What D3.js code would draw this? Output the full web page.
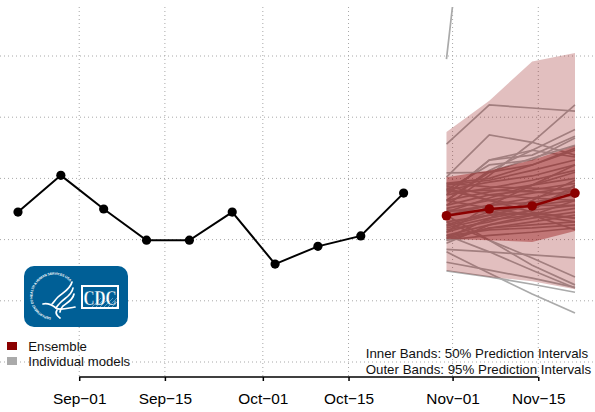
<!DOCTYPE html>
<html>
<head>
<meta charset="utf-8">
<script src="https://cdn.jsdelivr.net/npm/d3@7"></script>
<style>
  html, body { margin: 0; padding: 0; background: #fff; }
  svg { display: block; }
  text { font-family: "Liberation Sans", Arial, sans-serif; }
</style>
</head>
<body>
<div id="chart"></div>
<script>
var svgWidth = 595;
var svgHeight = 412;

var parseDay = d3.utcParse("%Y-%m-%d");

// observed weekly values
var obsDates = ["2020-08-22", "2020-08-29", "2020-09-05", "2020-09-12", "2020-09-19", "2020-09-26", "2020-10-03", "2020-10-10", "2020-10-17", "2020-10-24"];
var obsValues = [245, 305, 250, 199, 199, 245, 160, 189, 206, 276];

// forecast weeks
var fcDates = ["2020-10-31", "2020-11-07", "2020-11-14", "2020-11-21"];
var ensemble = [239, 250, 255, 276];
var outerUpper = [376, 427, 491, 505];
var outerLower = [149, 139, 132, 119];
var innerUpper = [302, 313, 330, 353];
var innerLower = [201, 199, 196, 214];

// individual models, one row per model
var models = [
  [495, 1104, 1500, 1700],
  [356, 420, 415, 410],
  [302, 371, 359, 338],
  [256, 305, 359, 420],
  [264, 313, 346, 380],
  [273, 330, 338, 369],
  [281, 322, 330, 366],
  [273, 330, 346, 335],
  [264, 310, 333, 354],
  [309, 310, 322, 346],
  [292, 300, 322, 349],
  [289, 297, 313, 330],
  [281, 294, 304, 322],
  [273, 284, 297, 313],
  [264, 278, 289, 300],
  [256, 273, 281, 292],
  [251, 264, 276, 286],
  [245, 256, 268, 281],
  [240, 256, 261, 273],
  [287, 273, 268, 264],
  [281, 264, 256, 256],
  [224, 245, 256, 264],
  [219, 235, 248, 256],
  [212, 232, 240, 251],
  [207, 224, 235, 245],
  [202, 219, 229, 240],
  [229, 240, 243, 235],
  [199, 219, 224, 229],
  [206, 216, 219, 224],
  [248, 245, 240, 229],
  [264, 251, 240, 216],
  [284, 264, 245, 235],
  [194, 224, 240, 264],
  [202, 235, 264, 297],
  [212, 256, 289, 322],
  [222, 240, 256, 281],
  [216, 229, 248, 289],
  [245, 268, 289, 310],
  [278, 281, 278, 273],
  [199, 207, 212, 219],
  [292, 286, 284, 281],
  [184, 180, 175, 170],
  [180, 145, 111, 80],
  [149, 139, 127, 114],
  [163, 150, 137, 122],
  [229, 199, 170, 139],
  [240, 199, 158, 126],
  [207, 180, 150, 121]
];

var yGrid = [0, 100, 200, 300, 400, 500];
var tickDates = ["2020-09-01", "2020-09-15", "2020-10-01", "2020-10-15", "2020-11-01", "2020-11-15"];
var tickLabels = ["Sep\u221201", "Sep\u221215", "Oct\u221201", "Oct\u221215", "Nov\u221201", "Nov\u221215"];
var legendLabels = ["Ensemble", "Individual models"];
var legendColors = ["#8b0000", "#aaaaaa"];
var noteLabels = ["Inner Bands: 50% Prediction Intervals", "Outer Bands: 95% Prediction Intervals"];

var xScale = d3.scaleUtc()
  .domain([parseDay("2020-08-22"), parseDay("2020-11-21")])
  .range([18, 575]);

var yScale = d3.scaleLinear()
  .domain([0, 500])
  .range([362, 56]);

var plotTop = 7;
var axisY = 377;

var svg = d3.select("#chart")
  .append("svg")
  .attr("width", svgWidth)
  .attr("height", svgHeight);

svg.append("clipPath")
  .attr("id", "plotClip")
  .append("rect")
  .attr("x", 0)
  .attr("y", plotTop)
  .attr("width", svgWidth)
  .attr("height", axisY - plotTop);

// Grid
var grid = svg.append("g")
  .attr("stroke", "#a8a8a8")
  .attr("stroke-width", 1)
  .attr("stroke-dasharray", "1,3");

grid.selectAll(".h")
  .data(yGrid)
  .enter().append("line")
    .attr("x1", 0)
    .attr("x2", svgWidth)
    .attr("y1", function(d) { return yScale(d); })
    .attr("y2", function(d) { return yScale(d); });

grid.selectAll(".v")
  .data(tickDates)
  .enter().append("line")
    .attr("x1", function(d) { return xScale(parseDay(d)); })
    .attr("x2", function(d) { return xScale(parseDay(d)); })
    .attr("y1", plotTop)
    .attr("y2", axisY);

var plot = svg.append("g").attr("clip-path", "url(#plotClip)");

// Individual models go under the bands, the bands tint them
var fcLine = d3.line()
  .x(function(d, i) { return xScale(parseDay(fcDates[i])); })
  .y(function(d) { return yScale(d); });

plot.selectAll(".model")
  .data(models)
  .enter().append("path")
    .attr("class", "model")
    .attr("d", fcLine)
    .attr("fill", "none")
    .attr("stroke", "#aaaaaa")
    .attr("stroke-width", 1.7);

var band = d3.area()
  .x(function(d, i) { return xScale(parseDay(fcDates[i])); })
  .y0(function(d) { return yScale(d[0]); })
  .y1(function(d) { return yScale(d[1]); });

plot.append("path")
  .attr("d", band(d3.zip(outerLower, outerUpper)))
  .attr("fill", "#8b0000")
  .attr("fill-opacity", 0.25);

plot.append("path")
  .attr("d", band(d3.zip(innerLower, innerUpper)))
  .attr("fill", "#8b0000")
  .attr("fill-opacity", 0.38);

// Ensemble
plot.append("path")
  .attr("d", fcLine(ensemble))
  .attr("fill", "none")
  .attr("stroke", "#8b0000")
  .attr("stroke-width", 2.4);

plot.selectAll(".ens")
  .data(ensemble)
  .enter().append("circle")
    .attr("class", "ens")
    .attr("cx", function(d, i) { return xScale(parseDay(fcDates[i])); })
    .attr("cy", function(d) { return yScale(d); })
    .attr("r", 4.8)
    .attr("fill", "#8b0000");

// Observed
var obsLine = d3.line()
  .x(function(d, i) { return xScale(parseDay(obsDates[i])); })
  .y(function(d) { return yScale(d); });

plot.append("path")
  .attr("d", obsLine(obsValues))
  .attr("fill", "none")
  .attr("stroke", "#000")
  .attr("stroke-width", 2);

plot.selectAll(".obs")
  .data(obsValues)
  .enter().append("circle")
    .attr("class", "obs")
    .attr("cx", function(d, i) { return xScale(parseDay(obsDates[i])); })
    .attr("cy", function(d) { return yScale(d); })
    .attr("r", 4.6)
    .attr("fill", "#000");

// X axis, no y axis in this crop
var bottomAxis = d3.axisBottom(xScale)
  .tickValues(tickDates.map(parseDay))
  .tickFormat(function(d, i) { return tickLabels[i]; })
  .tickSize(4)
  .tickPadding(12);

var xAxis = svg.append("g")
  .attr("transform", "translate(0," + axisY + ")")
  .call(bottomAxis);

xAxis.select(".domain")
  .attr("d", "M" + xScale(parseDay(tickDates[0])) + ",0H" + xScale(parseDay(tickDates[5])))
  .attr("stroke", "#000")
  .attr("stroke-width", 1.5);

xAxis.selectAll(".tick line")
  .attr("stroke", "#000")
  .attr("stroke-width", 1.5);

xAxis.selectAll(".tick text")
  .attr("font-family", "Liberation Sans")
  .attr("font-size", 15.4)
  .attr("fill", "#000");

// Legend
var legend = svg.selectAll(".legend")
  .data(legendLabels)
  .enter().append("g")
    .attr("class", "legend")
    .attr("transform", function(d, i) { return "translate(0," + (i * 15) + ")"; });

legend.append("rect")
  .attr("x", 7)
  .attr("y", 342)
  .attr("width", 10)
  .attr("height", 8)
  .attr("fill", function(d, i) { return legendColors[i]; });

legend.append("text")
  .attr("x", 28.3)
  .attr("y", 350.5)
  .attr("font-size", 13.2)
  .attr("fill", "#111")
  .text(function(d) { return d; });

svg.selectAll(".note")
  .data(noteLabels)
  .enter().append("text")
    .attr("class", "note")
    .attr("x", 365.7)
    .attr("y", function(d, i) { return 358 + i * 16; })
    .attr("font-size", 13.3)
    .attr("fill", "#111")
    .text(function(d) { return d; });

// CDC logo
var logo = svg.append("g");
var logoBlue = "#005f96";

logo.append("rect")
  .attr("x", 24).attr("y", 266)
  .attr("width", 104).attr("height", 61)
  .attr("rx", 10)
  .attr("fill", logoBlue);

logo.append("path")
  .attr("id", "sealRing")
  .attr("d", "M51,317.5 A21.5,21.5 0 1 1 71,283")
  .attr("fill", "none");

logo.append("text")
  .attr("font-size", 3.4)
  .attr("font-weight", "bold")
  .attr("fill", "#fff")
  .append("textPath")
  .attr("href", "#sealRing")
  .attr("textLength", 82)
  .text("DEPARTMENT OF HEALTH & HUMAN SERVICES USA");

// eagle strokes
var eagle = [
  "M72,282 C70,290 62,293 58,297 C55,300 54,302 52,304",
  "M73,288 C72,295 65,298 61,302 C59,304 57,306 56,308",
  "M74,294 C73,300 67,303 63,306 C61,308 60,310 60,312",
  "M43,304 C47,303 52,305 56,308 C60,311 68,308 75,307",
  "M57,310 C55,313 57,316 60,318"
];
logo.selectAll(".eagle")
  .data(eagle)
  .enter().append("path")
    .attr("class", "eagle")
    .attr("d", function(d) { return d; })
    .attr("fill", "none")
    .attr("stroke", "#fff")
    .attr("stroke-width", 1.7)
    .attr("stroke-linecap", "round");

logo.append("rect")
  .attr("x", 81).attr("y", 285)
  .attr("width", 38).attr("height", 24)
  .attr("fill", "#fff");

logo.append("rect")
  .attr("x", 83).attr("y", 287)
  .attr("width", 34).attr("height", 20)
  .attr("fill", logoBlue);

// hatch in the lower right corner of the box
var hatch = [0, 1, 2, 3, 4, 5, 6];
logo.selectAll(".hatch")
  .data(hatch)
  .enter().append("line")
    .attr("class", "hatch")
    .attr("x1", function(d) { return 92 + d * 4; })
    .attr("y1", 307)
    .attr("x2", function(d) { return Math.min(117, 101 + d * 4); })
    .attr("y2", function(d) { return 307 - (Math.min(117, 101 + d * 4) - (92 + d * 4)); })
    .attr("stroke", "#9cc2da")
    .attr("stroke-width", 0.6);

logo.append("text")
  .attr("x", 83.5)
  .attr("y", 305)
  .attr("textLength", 33)
  .attr("lengthAdjust", "spacingAndGlyphs")
  .attr("font-size", 22)
  .attr("font-weight", "bold")
  .attr("fill", "#fff")
  .attr("stroke", logoBlue)
  .attr("stroke-width", 0.3)
  .style("font-family", "Liberation Serif")
  .text("CDC");
</script>
</body>
</html>
